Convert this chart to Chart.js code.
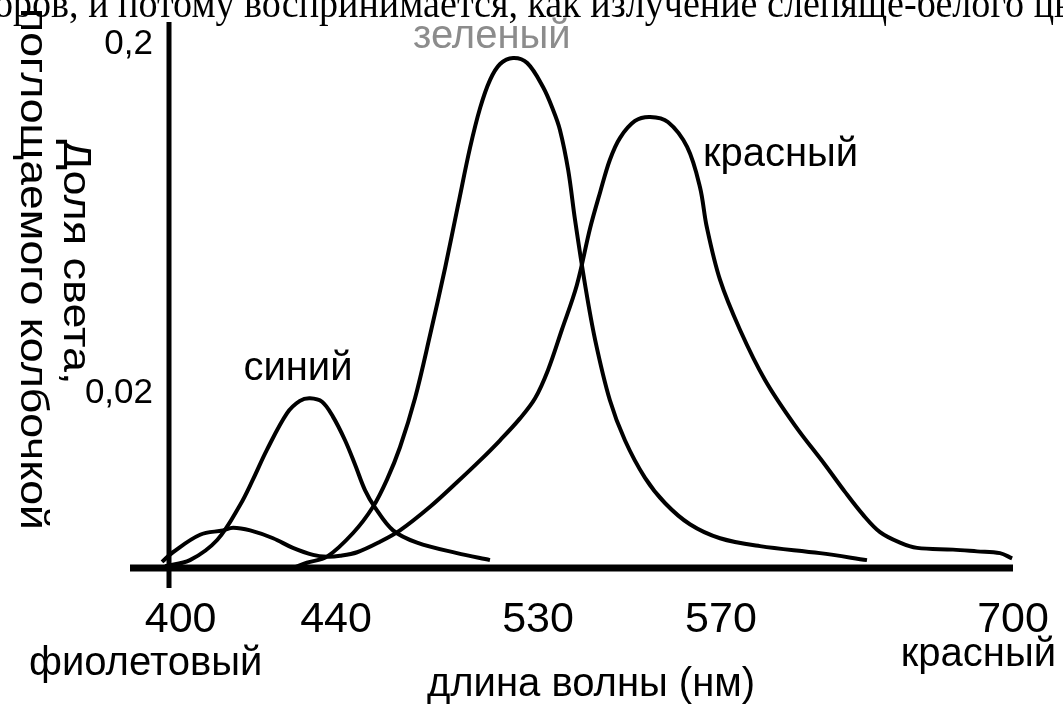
<!DOCTYPE html>
<html>
<head>
    <meta charset="utf-8">
    <title>Доля света, поглощаемого колбочкой</title>
    <style>
        body {
            margin: 0;
            padding: 0;
            background-color: #ffffff;
        }
        #wrap {
            width: 1063px;
            height: 713px;
        }
    </style>
    <script src="https://cdn.jsdelivr.net/npm/chart.js"></script>
</head>
<body>
    <div id="wrap">
        <canvas id="coneChart" width="1063" height="713"></canvas>
    </div>
    <script>
        // tick labels (the axis is a schematic, not linear)
        const xTickValues = [400, 440, 530, 570, 700];
        const xTickLabels = ['400', '440', '530', '570', '700'];
        const yTickValues = [0.02, 0.2];
        const yTickLabels = ['0,02', '0,2'];

        // синий (short wavelength cones)
        const blueX = [396, 402.4, 409.4, 415.3, 418.6, 422.2, 427.4, 430.7, 433.3, 436.4, 439.2, 444, 448.5, 452.9, 457.4, 465.4, 476.1, 493.9, 508.6];
        const blueY = [0.0002, 0.0009, 0.0032, 0.0072, 0.0101, 0.0135, 0.0177, 0.0191, 0.0194, 0.019, 0.0173, 0.0146, 0.0118, 0.0089, 0.0069, 0.0043, 0.0029, 0.0017, 0.0009];

        // зеленый
        const greenX = [429.4, 432.5, 437.7, 447.6, 456.5, 462.7, 468.5, 475.2, 481.9, 488.6, 494.4, 499.7, 504.2, 508.6, 513.1, 518.9, 525.2, 531.1, 533.3, 534.8, 536.6, 538.1, 540.3, 542.5, 545.7, 549, 553.4, 557.8, 563.2, 569.8, 587.4, 614.1, 635];
        const greenY = [0.0001, 0.0006, 0.0013, 0.004, 0.007, 0.0101, 0.0138, 0.0194, 0.0499, 0.0845, 0.117, 0.1464, 0.167, 0.1814, 0.1897, 0.1928, 0.1902, 0.1778, 0.166, 0.1557, 0.135, 0.1092, 0.0757, 0.0473, 0.0192, 0.0146, 0.0103, 0.0074, 0.005, 0.0034, 0.0025, 0.0017, 0.0009];

        // красный (with the small bump in the blue region)
        const redX = [395.2, 398, 405, 410.9, 413.5, 417.9, 423.8, 428.9, 434.1, 437.7, 441.8, 449.4, 459.6, 468.5, 481.9, 493.9, 504.2, 513.1, 522, 528.7, 532.2, 535.2, 538.5, 541.4, 543.6, 545.7, 547.9, 551.2, 554.5, 558.4, 562.6, 565.4, 566.9, 569.8, 578.5, 589.6, 602.9, 616.3, 625.2, 633.2, 640.8, 649.7, 657.3, 673.3, 684, 694.2, 699.6];
        const redY = [0.0007, 0.0018, 0.0038, 0.0043, 0.0046, 0.0043, 0.0034, 0.0023, 0.0015, 0.0013, 0.0014, 0.0018, 0.003, 0.0043, 0.007, 0.0098, 0.0123, 0.0146, 0.0171, 0.0194, 0.0319, 0.0525, 0.0757, 0.1051, 0.1237, 0.1402, 0.1515, 0.1603, 0.1624, 0.1598, 0.1469, 0.1263, 0.1056, 0.0783, 0.0525, 0.0267, 0.0163, 0.0118, 0.0087, 0.0061, 0.0041, 0.0029, 0.0023, 0.0021, 0.0019, 0.0017, 0.0011];

        function toPoints(xs, ys) {
            return xs.map((x, i) => ({ x: x, y: ys[i] }));
        }

        // piecewise linear mapping value -> decimal (and back)
        function warpValue(v, b, f) {
            let i = 0;
            while (i < b.length - 2 && v > b[i + 1]) i++;
            return f[i] + (v - b[i]) / (b[i + 1] - b[i]) * (f[i + 1] - f[i]);
        }
        function unwarpValue(d, b, f) {
            let i = 0;
            while (i < f.length - 2 && d > f[i + 1]) i++;
            return b[i] + (d - f[i]) / (f[i + 1] - f[i]) * (b[i + 1] - b[i]);
        }

        class WarpScale extends Chart.LinearScale {
            getPixelForValue(value) {
                if (value === null || isNaN(value)) return NaN;
                return this.getPixelForDecimal(warpValue(value, this.options.breaks, this.options.fracs));
            }
            getValueForPixel(pixel) {
                return unwarpValue(this.getDecimalForPixel(pixel), this.options.breaks, this.options.fracs);
            }
        }
        WarpScale.id = 'warp';
        WarpScale.defaults = Chart.LinearScale.defaults;
        Chart.register(WarpScale);

        Chart.defaults.font.family = '"Liberation Sans", Arial, sans-serif';
        Chart.defaults.color = '#000';

        // axes, labels and the cut-off line of text above the figure
        const decorations = {
            id: 'decorations',
            afterDatasetsDraw(chart) {
                const ctx = chart.ctx;
                const area = chart.chartArea;
                const y0 = chart.scales.y.getPixelForValue(0);
                ctx.save();
                ctx.strokeStyle = '#000';
                ctx.lineCap = 'butt';
                ctx.lineWidth = 7;
                ctx.beginPath();
                ctx.moveTo(area.left - 39, y0);
                ctx.lineTo(area.right, y0);
                ctx.stroke();
                ctx.lineWidth = 5;
                ctx.beginPath();
                ctx.moveTo(area.left, area.top);
                ctx.lineTo(area.left, y0 + 20);
                ctx.stroke();
                ctx.restore();
            },
            afterDraw(chart) {
                const ctx = chart.ctx;
                ctx.save();
                ctx.textBaseline = 'alphabetic';
                ctx.font = '40px "Liberation Sans", Arial, sans-serif';
                ctx.fillStyle = '#000';
                ctx.textAlign = 'center';
                ctx.fillText('синий', 298, 380);
                ctx.textAlign = 'left';
                ctx.fillText('красный', 703, 166);
                ctx.fillText('фиолетовый', 29, 675);
                ctx.textAlign = 'right';
                ctx.fillText('красный', 1056, 666);
                ctx.textAlign = 'left';
                ctx.fillStyle = '#8c8c8c';
                ctx.fillText('зеленый', 413, 48);

                // y title, rotated clockwise, two lines
                ctx.fillStyle = '#000';
                ctx.font = '38px "Liberation Sans", Arial, sans-serif';
                ctx.textAlign = 'center';
                ctx.textBaseline = 'middle';
                const yTitle = [
                    { text: 'Доля света,', x: 74, y: 262, len: 245 },
                    { text: 'поглощаемого колбочкой', x: 31, y: 269, len: 522 }
                ];
                yTitle.forEach(t => {
                    const w = ctx.measureText(t.text).width;
                    ctx.save();
                    ctx.translate(t.x, t.y);
                    ctx.rotate(Math.PI / 2);
                    ctx.scale(t.len / w, 1);
                    ctx.fillText(t.text, 0, 0);
                    ctx.restore();
                });

                // line of the surrounding text, cut by the top edge
                const top = 'оров, и потому воспринимается, как излучение слепяще-белого цв';
                ctx.font = '40px "Liberation Serif", "Times New Roman", serif';
                ctx.textAlign = 'left';
                ctx.textBaseline = 'alphabetic';
                const tw = ctx.measureText(top).width;
                ctx.save();
                ctx.translate(-6, 17);
                ctx.scale(1078 / tw, 1);
                ctx.fillText(top, 0, 0);
                ctx.restore();
                ctx.restore();
            }
        };

        const lineStyle = {
            borderColor: '#000',
            borderWidth: 4,
            pointRadius: 0,
            fill: false,
            tension: 0.35,
            clip: false
        };

        new Chart(document.getElementById('coneChart'), {
            type: 'line',
            data: {
                datasets: [
                    Object.assign({ label: 'синий', data: toPoints(blueX, blueY) }, lineStyle),
                    Object.assign({ label: 'зеленый', data: toPoints(greenX, greenY) }, lineStyle),
                    Object.assign({ label: 'красный', data: toPoints(redX, redY) }, lineStyle)
                ]
            },
            options: {
                responsive: false,
                animation: false,
                layout: {
                    padding: { top: 22, right: 50, left: 0, bottom: 0 }
                },
                plugins: {
                    legend: { display: false },
                    tooltip: { enabled: false }
                },
                scales: {
                    x: {
                        type: 'warp',
                        min: 397,
                        max: 700,
                        breaks: [397, 440, 530, 570, 700],
                        fracs: [0, 0.1979, 0.4372, 0.654, 1],
                        afterBuildTicks: s => { s.ticks = xTickValues.map(v => ({ value: v })); },
                        afterFit: s => { s.height = 145; s.paddingLeft = 0; s.paddingRight = 0; },
                        grid: { display: false },
                        border: { display: false },
                        ticks: {
                            autoSkip: false,
                            maxRotation: 0,
                            padding: 18,
                            color: '#000',
                            font: { size: 43 },
                            callback: (v, i) => xTickLabels[i]
                        },
                        title: {
                            display: true,
                            text: 'длина волны (нм)',
                            color: '#000',
                            font: { size: 40 },
                            padding: { top: 0, bottom: 4 }
                        }
                    },
                    y: {
                        type: 'warp',
                        min: 0,
                        max: 0.21,
                        breaks: [0, 0.02, 0.2, 0.21],
                        fracs: [0, 0.3205, 0.9597, 1],
                        afterBuildTicks: s => { s.ticks = yTickValues.map(v => ({ value: v })); },
                        afterFit: s => { s.width = 169; s.paddingTop = 0; s.paddingBottom = 0; },
                        grid: { display: false },
                        border: { display: false },
                        ticks: {
                            padding: 8,
                            color: '#000',
                            font: { size: 35 },
                            callback: (v, i) => yTickLabels[i]
                        }
                    }
                }
            },
            plugins: [decorations]
        });
    </script>
</body>
</html>
